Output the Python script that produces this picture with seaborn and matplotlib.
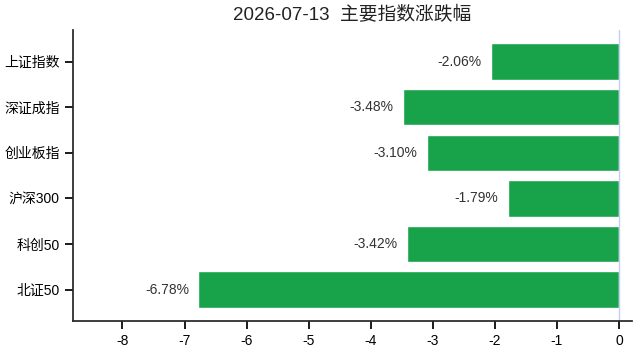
import pandas as pd
import matplotlib
matplotlib.use("Agg")
import matplotlib.pyplot as plt
import seaborn as sns

sns.set_theme(style="ticks")
plt.rcParams['font.family'] = ['Liberation Sans', 'Noto Sans CJK SC', 'DejaVu Sans']
plt.rcParams['axes.unicode_minus'] = False

### DATA
names = ['上证指数', '深证成指', '创业板指', '沪深300', '科创50', '北证50']
changes = [-2.06, -3.48, -3.10, -1.79, -3.42, -6.78]
title = '2026-07-13  主要指数涨跌幅'

df = pd.DataFrame({'name': names, 'change': changes})

fig, ax = plt.subplots(figsize=(6.39, 3.53), dpi=100)

sns.barplot(data=df, y='name', x='change', orient='h', color='#18a34a',
            saturation=1, width=0.8, ax=ax)

# value labels left of the bars
for i, v in enumerate(df['change']):
    ax.text(v - 0.15, i, f'{v:.2f}%', ha='right', va='center',
            fontsize=10, color='#333333')

ax.axvline(0, color='#bfd0f0', linewidth=1)
ax.set_xlim(-8.8, 0.21)
ax.set_ylim(len(names) - 1 + 0.69, -0.69)
ax.set_xticks(range(-8, 1))
ax.set_title(title, fontsize=13.5, color='#222222', pad=7)
ax.set_xlabel('')
ax.set_ylabel('')
ax.tick_params(labelsize=10, colors='black')
sns.despine(ax=ax)

plt.subplots_adjust(left=0.114, right=0.989, top=0.915, bottom=0.09)
plt.savefig('out.png', dpi=100)
